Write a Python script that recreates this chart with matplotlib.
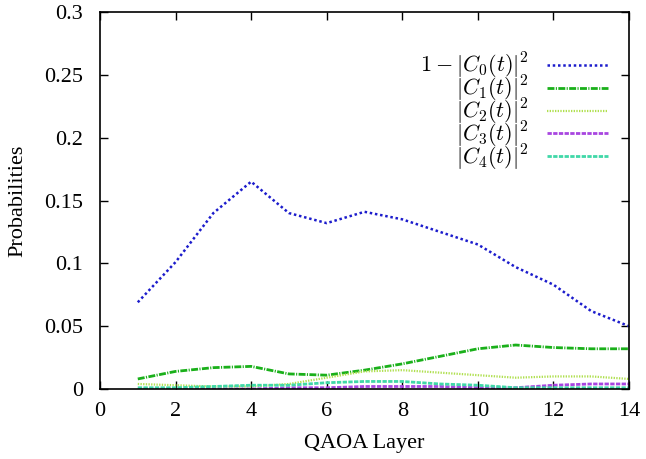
import matplotlib

matplotlib.use("Agg")
import matplotlib.pyplot as plt

layers = list(range(1, 15))
c0 = [0.069, 0.101, 0.140, 0.165, 0.140, 0.132, 0.141, 0.135, 0.125, 0.115, 0.097, 0.083, 0.062, 0.050]
c1 = [0.008, 0.014, 0.017, 0.018, 0.012, 0.011, 0.015, 0.020, 0.026, 0.032, 0.035, 0.033, 0.032, 0.032]
c2 = [0.004, 0.003, 0.002, 0.002, 0.004, 0.009, 0.014, 0.015, 0.013, 0.011, 0.009, 0.010, 0.010, 0.008]
c3 = [0.000, 0.000, 0.000, 0.000, 0.001, 0.001, 0.002, 0.002, 0.002, 0.001, 0.001, 0.003, 0.004, 0.004]
c4 = [0.001, 0.001, 0.002, 0.003, 0.003, 0.005, 0.006, 0.006, 0.004, 0.003, 0.001, 0.001, 0.001, 0.001]

labels = [
    r"$1-|C_0(t)|^2$",
    r"$|C_1(t)|^2$",
    r"$|C_2(t)|^2$",
    r"$|C_3(t)|^2$",
    r"$|C_4(t)|^2$",
]

plt.rcParams["font.family"] = ["Liberation Serif", "DejaVu Serif"]
plt.rcParams["mathtext.fontset"] = "cm"
plt.rcParams["font.size"] = 16

fig = plt.figure(figsize=(6.46, 4.59), dpi=100)
ax = fig.add_axes([100 / 646, 1 - 389 / 459, 529 / 646, 377 / 459])

ax.plot(layers, c0, color="#1c1ccc", linestyle=(0, (1.0, 1.1)), linewidth=1.8, label=labels[0])
ax.plot(layers, c1, color="#1ab01a", linestyle=(0, (2.5, 0.5, 0.4, 0.5)), linewidth=2.0, label=labels[1])
ax.plot(layers, c2, color="#b0e050", linestyle=(0, (0.6, 0.6)), linewidth=1.6, label=labels[2])
ax.plot(layers, c3, color="#a845e0", linestyle=(0, (1.55, 0.5)), linewidth=2.0, label=labels[3])
ax.plot(layers, c4, color="#40d8a8", linestyle=(0, (1.55, 0.5)), linewidth=2.0, label=labels[4])

ax.set_xlim(0, 14)
ax.set_ylim(0, 0.3)
ax.set_xticks(range(0, 15, 2))
ax.set_yticks([0, 0.05, 0.1, 0.15, 0.2, 0.25, 0.3])
ax.set_yticklabels(["0", "0.05", "0.1", "0.15", "0.2", "0.25", "0.3"])
ax.tick_params(direction="in", top=True, right=True, length=6, width=1)
ax.tick_params(axis="x", pad=9)
ax.tick_params(axis="y", pad=12)
for s in ax.spines.values():
    s.set_linewidth(1.2)

ax.set_xlabel("QAOA Layer", labelpad=10)
ax.set_ylabel("Probabilities", labelpad=12)

ax.legend(
    loc="upper right",
    bbox_to_anchor=(0.977, 0.92),
    frameon=False,
    markerfirst=False,
    handlelength=2.75,
    handletextpad=0.8,
    labelspacing=-0.32,
    borderaxespad=0,
)

fig.savefig("out.png", dpi=100)
